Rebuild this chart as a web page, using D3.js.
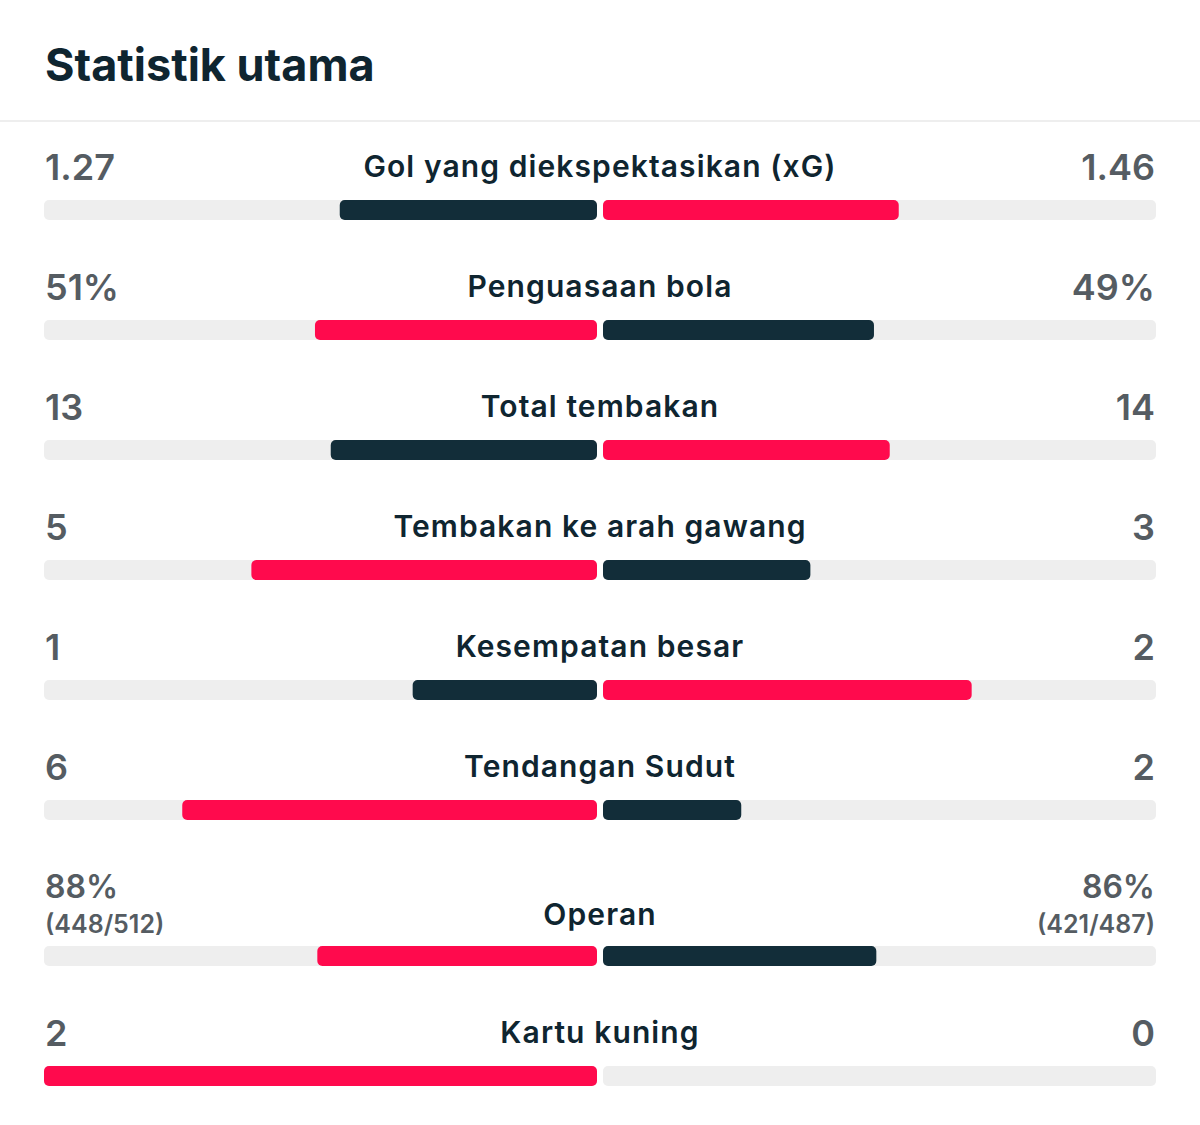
<!DOCTYPE html>
<html>
<head>
<meta charset="utf-8">
<script src="https://cdn.jsdelivr.net/npm/d3@7"></script>
<style>
  body { margin: 0; background: #fff; }
  text { font-family: Inter, "Noto Sans", sans-serif; }
</style>
</head>
<body>
<div id="chart"></div>
<script>
// stat names and values per team
var statNames = ["Gol yang diekspektasikan (xG)", "Penguasaan bola", "Total tembakan",
  "Tembakan ke arah gawang", "Kesempatan besar", "Tendangan Sudut", "Operan", "Kartu kuning"];
var homeValues = [1.27, 51, 13, 5, 1, 6, 88, 2];
var awayValues = [1.46, 49, 14, 3, 2, 2, 86, 0];
var homeLabels = ["1.27", "51%", "13", "5", "1", "6", "88%", "2"];
var awayLabels = ["1.46", "49%", "14", "3", "2", "2", "86%", "0"];
var homeSub = ["", "", "", "", "", "", "(448/512)", ""];
var awaySub = ["", "", "", "", "", "", "(421/487)", ""];

var svgWidth = 1200;
var svgHeight = 1125;

var red = "#ff0a4d";
var navy = "#122d39";
var track = "#eeeeee";

var svg = d3.select("#chart")
  .append("svg")
  .attr("width", svgWidth)
  .attr("height", svgHeight);

// title + separator
svg.append("text")
  .attr("x", 45)
  .attr("y", 81)
  .attr("font-size", "45px")
  .attr("font-weight", 700)
  .attr("fill", "#0f2530")
  .text("Statistik utama");

svg.append("rect")
  .attr("x", 0)
  .attr("y", 120)
  .attr("width", svgWidth)
  .attr("height", 2)
  .attr("fill", "#eeeeee");

// build row data, rows with a sub line get extra height
var rows = [];
var rowTop = 200;
statNames.forEach(function(name, i) {
  var hasSub = homeSub[i] !== "";
  if (i > 0) rowTop += 120 + (hasSub ? 26 : 0);
  var total = homeValues[i] + awayValues[i];
  rows.push({
    name: name,
    home: homeValues[i],
    away: awayValues[i],
    homeShare: total ? homeValues[i] / total : 0,
    awayShare: total ? awayValues[i] / total : 0,
    homeLabel: homeLabels[i],
    awayLabel: awayLabels[i],
    homeSub: homeSub[i],
    awaySub: awaySub[i],
    hasSub: hasSub,
    top: rowTop
  });
});

// scales: share of total -> bar extent from the centre
var xLeft = d3.scaleLinear().domain([0, 1]).range([597, 44]);
var xRight = d3.scaleLinear().domain([0, 1]).range([603, 1156]);
var barH = 20;

var rowGroup = svg.selectAll("g.row")
  .data(rows)
  .enter()
  .append("g")
  .attr("class", "row")
  .attr("transform", d => `translate(0, ${d.top})`);

// tracks
rowGroup.append("rect")
  .attr("x", xLeft(1))
  .attr("width", xLeft(0) - xLeft(1))
  .attr("height", barH)
  .attr("rx", 5)
  .attr("fill", track);

rowGroup.append("rect")
  .attr("x", xRight(0))
  .attr("width", xRight(1) - xRight(0))
  .attr("height", barH)
  .attr("rx", 5)
  .attr("fill", track);

// value bars, higher value gets red
rowGroup.filter(d => d.homeShare > 0)
  .append("rect")
  .attr("x", d => xLeft(d.homeShare))
  .attr("width", d => xLeft(0) - xLeft(d.homeShare))
  .attr("height", barH)
  .attr("rx", 5)
  .attr("fill", d => d.home >= d.away ? red : navy);

rowGroup.filter(d => d.awayShare > 0)
  .append("rect")
  .attr("x", xRight(0))
  .attr("width", d => xRight(d.awayShare) - xRight(0))
  .attr("height", barH)
  .attr("rx", 5)
  .attr("fill", d => d.away > d.home ? red : navy);

// stat label
rowGroup.append("text")
  .attr("x", 600)
  .attr("y", d => d.hasSub ? -21 : -23)
  .attr("text-anchor", "middle")
  .attr("font-size", "30px")
  .attr("font-weight", 600)
  .attr("letter-spacing", "1.1px")
  .attr("fill", "#0f2530")
  .text(d => d.name);

// values
rowGroup.append("text")
  .attr("x", 45)
  .attr("y", d => d.hasSub ? -48 : -20)
  .attr("font-size", d => d.hasSub ? "32px" : "36px")
  .attr("font-weight", 600)
  .attr("fill", "#555c62")
  .text(d => d.homeLabel);

rowGroup.append("text")
  .attr("x", 1155)
  .attr("y", d => d.hasSub ? -48 : -20)
  .attr("text-anchor", "end")
  .attr("font-size", d => d.hasSub ? "32px" : "36px")
  .attr("font-weight", 600)
  .attr("fill", "#555c62")
  .text(d => d.awayLabel);

rowGroup.filter(d => d.hasSub)
  .append("text")
  .attr("x", 45)
  .attr("y", -13)
  .attr("font-size", "25px")
  .attr("font-weight", 600)
  .attr("fill", "#555c62")
  .text(d => d.homeSub);

rowGroup.filter(d => d.hasSub)
  .append("text")
  .attr("x", 1155)
  .attr("y", -13)
  .attr("text-anchor", "end")
  .attr("font-size", "25px")
  .attr("font-weight", 600)
  .attr("fill", "#555c62")
  .text(d => d.awaySub);
</script>
</body>
</html>
